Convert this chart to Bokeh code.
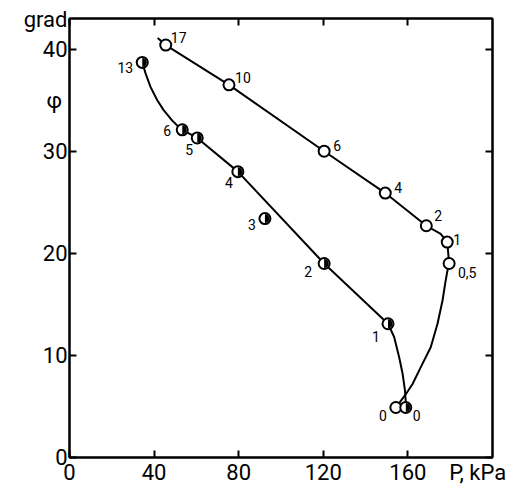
import math
from bokeh.plotting import figure
from bokeh.models import LinearAxis, FixedTicker, Range1d, ColumnDataSource
from bokeh.embed import file_html
from bokeh.resources import INLINE
from bokeh.core.properties import value

FONT = "Roboto"

# ---- data ----
open_p = [45.5, 75.4, 120.4, 149.3, 168.7, 178.6, 179.5, 154.3]
open_phi = [40.4, 36.5, 30.0, 25.9, 22.7, 21.1, 19.0, 4.9]
open_labels = ["17", "10", "6", "4", "2", "1", "0,5", "0"]

half_p = [34.4, 53.3, 60.4, 79.6, 92.4, 120.4, 150.6, 159.0]
half_phi = [38.7, 32.1, 31.3, 28.0, 23.4, 19.0, 13.1, 4.9]
half_labels = ["13", "6", "5", "4", "3", "2", "1", "0"]

upper_curve_p = [41.7, 45.5, 75.4, 120.4, 149.3, 168.7, 175.5, 178.6, 179.5,
                 178.6, 177.6, 176.4, 174.0, 170.8, 166.1, 162.2, 159.0, 155.8]
upper_curve_phi = [41.1, 40.4, 36.5, 30.0, 25.9, 22.7, 21.9, 21.1, 19.0,
                   18.2, 17.0, 15.4, 13.1, 10.8, 8.85, 7.2, 6.2, 5.3]

lower_curve_p = [34.4, 36.0, 38.3, 41.5, 44.6, 48.6, 52.5, 53.3, 60.4, 79.6,
                 120.4, 150.6, 153.5, 155.9, 157.5, 158.6, 159.0]
lower_curve_phi = [38.7, 37.6, 36.3, 35.0, 34.0, 33.0, 32.2, 32.1, 31.3, 28.0,
                   19.0, 13.1, 11.8, 9.8, 8.2, 6.6, 5.4]

x_ticks = [0, 40, 80, 120, 160]
y_ticks = [0, 10, 20, 30, 40]
x_title = "P, kPa"
y_title = "φ\u00a0"
y_unit = "grad"
X0, X1 = 0, 200
Y0, Y1 = 0, 43
x_title_at = 193
y_title_at = 35
y_unit_at = 42.9

# label offsets (screen px) – style only
open_dx = [13, 14, 13, 13, 12, 10, 18, -13]
open_dy = [-8, -7, -6, -6, -10, -3, 9, 8]
half_dx = [-17, -15, -8, -9, -13, -16, -12, 11]
half_dy = [5, 1, 12, 11, 6, 8, 13, 8]

p = figure(width=508, height=494, x_range=Range1d(X0, X1), y_range=Range1d(Y0, Y1),
           output_backend="svg", toolbar_location=None,
           x_axis_location=None, y_axis_location=None,
           min_border_left=69, min_border_right=16, min_border_top=18,
           min_border_bottom=37)
p.grid.visible = False
p.outline_line_color = "black"
p.outline_line_width = 2
p.background_fill_color = "white"


def make_axis(label_ticks, mark_ticks, overrides, standoff):
    # labels sit on major ticks (no marks); the visible inward marks are minor ticks
    ax = LinearAxis(ticker=FixedTicker(ticks=label_ticks, minor_ticks=mark_ticks),
                    major_tick_in=0, major_tick_out=0,
                    major_tick_line_color=None,
                    minor_tick_in=7, minor_tick_out=0,
                    minor_tick_line_color="black", minor_tick_line_width=2,
                    axis_line_color="black", axis_line_width=2,
                    major_label_text_font=FONT,
                    major_label_text_font_size="22px",
                    major_label_text_color="black",
                    major_label_standoff=standoff,
                    major_label_overrides=overrides)
    return ax


bottom = make_axis(x_ticks + [x_title_at], x_ticks, {x_title_at: x_title}, 2)
left = make_axis(y_ticks + [y_title_at, y_unit_at], y_ticks,
                 {y_title_at: y_title, y_unit_at: y_unit}, 2)
top = make_axis([], x_ticks, {}, 0)
right = make_axis([], y_ticks, {}, 0)
p.add_layout(bottom, "below")
p.add_layout(left, "left")
p.add_layout(top, "above")
p.add_layout(right, "right")

p.line(upper_curve_p, upper_curve_phi, line_color="black", line_width=2)
p.line(lower_curve_p, lower_curve_phi, line_color="black", line_width=2)

src_open = ColumnDataSource(dict(x=open_p, y=open_phi, t=open_labels, dx=open_dx, dy=open_dy))
src_half = ColumnDataSource(dict(x=half_p, y=half_phi, t=half_labels, dx=half_dx, dy=half_dy))

p.scatter("x", "y", source=src_open, marker="circle", size=11,
          fill_color="white", line_color="black", line_width=2)
p.scatter("x", "y", source=src_half, marker="circle", size=11,
          fill_color="white", line_color="black", line_width=2)
p.wedge("x", "y", source=src_half, radius=4.5, radius_units="screen",
        start_angle=-math.pi / 2, end_angle=math.pi / 2,
        fill_color="black", line_color=None)

for src in (src_open, src_half):
    p.text("x", "y", text="t", source=src, x_offset="dx", y_offset="dy",
           text_align="center", text_baseline="middle",
           text_font=value(FONT), text_font_size="14px", text_color="black")

open("out.html", "w").write(file_html(p, INLINE))
